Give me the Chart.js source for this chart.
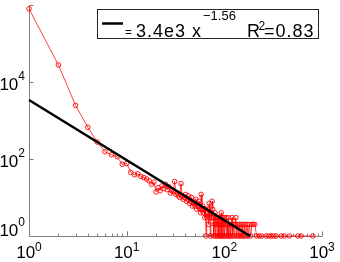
<!DOCTYPE html>
<html>
<head>
<meta charset="utf-8">
<script src="https://cdn.jsdelivr.net/npm/chart.js@4"></script>
<style>
  html, body { margin: 0; padding: 0; background: #fff; }
  #wrap { width: 340px; height: 262px; }
</style>
</head>
<body>
<div id="wrap"><canvas id="chart" width="340" height="262"></canvas></div>
<script>
// degree values and their counts (red markers)
const degree = [
  1, 2, 3, 4, 5, 6, 7, 8, 9, 10,
  11, 12, 13, 14, 15, 16, 17, 18, 19, 20,
  21, 22, 23, 24, 25, 26, 27, 28, 29, 30,
  31, 32, 33, 34, 35, 36, 37, 38, 39, 40,
  41, 42, 43, 44, 45, 46, 47, 48, 49, 50,
  51, 52, 53, 54, 55, 56, 57, 58, 59, 60,
  61, 62, 63, 64, 65, 66, 67, 68, 69, 70,
  71, 72, 73, 74, 75, 76, 77, 78, 79, 80,
  81, 82, 83, 84, 85, 86, 87, 88, 89, 90,
  91, 92, 93, 94, 95, 96, 97, 98, 99, 100,
  102, 104, 105, 107, 109, 110, 112, 114, 116, 118,
  120, 121, 124, 126, 128, 131, 133, 136, 139, 142,
  145, 148, 151, 155, 158, 162, 166, 171, 175, 180,
  186, 192, 198, 205, 214, 228, 241, 268, 285, 301,
  321, 339, 382, 410, 464, 565, 612, 805
];
const counts = [
  790000, 27600, 2450, 665, 275, 154, 129, 115, 73, 76,
  45, 39, 41, 35, 33, 30, 27, 22, 25, 14,
  18, 15, 20, 17, 22, 16, 19, 13, 15, 14,
  26, 12, 13, 11, 10, 23, 11, 9, 10, 12,
  8, 9, 11, 7, 8, 10, 6, 7, 8, 6,
  9, 5, 7, 6, 8, 5, 4, 12, 5, 6,
  4, 5, 3, 5, 1, 4, 3, 5, 2, 7,
  3, 1, 4, 3, 8, 5, 3, 1, 2, 4,
  1, 3, 2, 3, 1, 2, 3, 1, 2, 3,
  1, 2, 4, 1, 3, 2, 1, 2, 3, 1,
  2, 3, 1, 2, 1, 3, 1, 2, 1, 2,
  3, 1, 2, 1, 2, 3, 1, 2, 1, 2,
  1, 2, 1, 2, 1, 2, 1, 2, 1, 2,
  1, 2, 2, 2, 1, 1, 1, 1, 1, 1,
  1, 1, 1, 1, 1, 1, 1, 1
];

// power-law fit  y = 3.4e3 x^-1.56, drawn between its end points
const fitX = [1, 183];
const fitY = [3400, 1];

// tick labels (base 10, exponent as superscript)
const xTickVals = [1, 10, 100, 1000];
const xTickExp = ['0', '1', '2', '3'];
const yTickVals = [1, 100, 10000, 1000000];
const yTickExp = ['0', '2', '4', ''];

const FONT = '"Liberation Sans", Arial, Helvetica, sans-serif';

function label(ctx, base, exp, x, yBase, yExp, bigSize, smallSize, align) {
  ctx.font = bigSize + 'px ' + FONT;
  const wb = ctx.measureText(base).width;
  ctx.font = smallSize + 'px ' + FONT;
  const we = ctx.measureText(exp).width;
  let x0 = x;
  if (align === 'center') x0 = x - (wb + we) / 2;
  if (align === 'right') x0 = x - (wb + we);
  ctx.textAlign = 'left';
  ctx.font = bigSize + 'px ' + FONT;
  ctx.fillText(base, x0, yBase);
  ctx.font = smallSize + 'px ' + FONT;
  ctx.fillText(exp, x0 + wb, yExp);
}

const axesPlugin = {
  id: 'matlabAxes',
  beforeDatasetsDraw(chart) {
    const { ctx, chartArea: a, scales: { x, y } } = chart;
    ctx.save();
    ctx.strokeStyle = '#7f7f7f';
    ctx.lineWidth = 1;
    ctx.beginPath();
    ctx.moveTo(a.left + 0.5, a.top);
    ctx.lineTo(a.left + 0.5, a.bottom + 0.5);
    ctx.lineTo(a.right, a.bottom + 0.5);
    // x ticks, major and minor, pointing inward
    for (let d = 1; d < 1000; d *= 10) {
      for (let m = 1; m <= 10; m++) {
        const px = Math.round(x.getPixelForValue(d * m)) + 0.5;
        const len = (m === 1 || m === 10) ? 5 : 3;
        ctx.moveTo(px, a.bottom + 0.5);
        ctx.lineTo(px, a.bottom + 0.5 - len);
      }
    }
    // y ticks at labelled decades
    yTickVals.forEach(v => {
      const py = Math.round(y.getPixelForValue(v)) + 0.5;
      ctx.moveTo(a.left + 0.5, py);
      ctx.lineTo(a.left + 0.5 + 4, py);
    });
    ctx.stroke();

    ctx.fillStyle = '#000';
    xTickVals.forEach((v, i) => {
      const px = x.getPixelForValue(v);
      label(ctx, '10', xTickExp[i], px, a.bottom + 22, a.bottom + 15, 17, 12, 'center');
    });
    yTickVals.forEach((v, i) => {
      if (!yTickExp[i]) return;
      const py = y.getPixelForValue(v);
      const base = Math.min(py + 8, a.bottom);
      label(ctx, '10', yTickExp[i], 25, base, base - 10, 17, 12, 'right');
    });
    ctx.restore();
  }
};

const legendPlugin = {
  id: 'fitLegend',
  afterDraw(chart) {
    const { ctx } = chart;
    ctx.save();
    ctx.fillStyle = '#fff';
    ctx.fillRect(98, 9, 220, 29);
    ctx.strokeStyle = '#262626';
    ctx.lineWidth = 1;
    ctx.strokeRect(97.5, 9.5, 221, 29);
    ctx.strokeStyle = '#000';
    ctx.lineWidth = 2.5;
    ctx.beginPath();
    ctx.moveTo(102, 23.5);
    ctx.lineTo(123, 23.5);
    ctx.stroke();
    ctx.fillStyle = '#000';
    ctx.textAlign = 'left';
    ctx.font = '12px ' + FONT;
    ctx.fillText('=', 125, 35.5);
    if ('letterSpacing' in ctx) ctx.letterSpacing = '1px';
    ctx.font = '18px ' + FONT;
    ctx.fillText('3.4e3 x', 136, 37);
    ctx.fillText('R', 247, 37);
    ctx.fillText('=0.83', 264, 37);
    if ('letterSpacing' in ctx) ctx.letterSpacing = '0px';
    ctx.font = '13px ' + FONT;
    ctx.fillText('\u22121.56', 203, 20);
    ctx.font = '12px ' + FONT;
    ctx.fillText('2', 258.5, 30);
    ctx.restore();
  }
};

new Chart(document.getElementById('chart'), {
  type: 'line',
  data: {
    datasets: [
      {
        label: 'fit',
        data: fitX.map((v, i) => ({ x: v, y: fitY[i] })),
        borderColor: '#000',
        borderWidth: 2.5,
        pointRadius: 0,
        order: 0,
        clip: false
      },
      {
        label: 'data',
        data: degree.map((v, i) => ({ x: v, y: counts[i] })),
        borderColor: '#ff0000',
        borderWidth: 0.75,
        pointRadius: 2.3,
        pointBorderWidth: 0.9,
        pointBorderColor: '#ff0000',
        pointBackgroundColor: 'rgba(0,0,0,0)',
        order: 1,
        clip: false
      }
    ]
  },
  options: {
    responsive: false,
    animation: false,
    layout: { padding: { left: 29, right: 18, top: 0, bottom: 26 } },
    plugins: { legend: { display: false }, tooltip: { enabled: false } },
    elements: { line: { tension: 0 } },
    scales: {
      x: { type: 'logarithmic', min: 1, max: 1000, display: false },
      y: { type: 'logarithmic', min: 1, max: 1000000, display: false }
    }
  },
  plugins: [axesPlugin, legendPlugin]
});
</script>
</body>
</html>
